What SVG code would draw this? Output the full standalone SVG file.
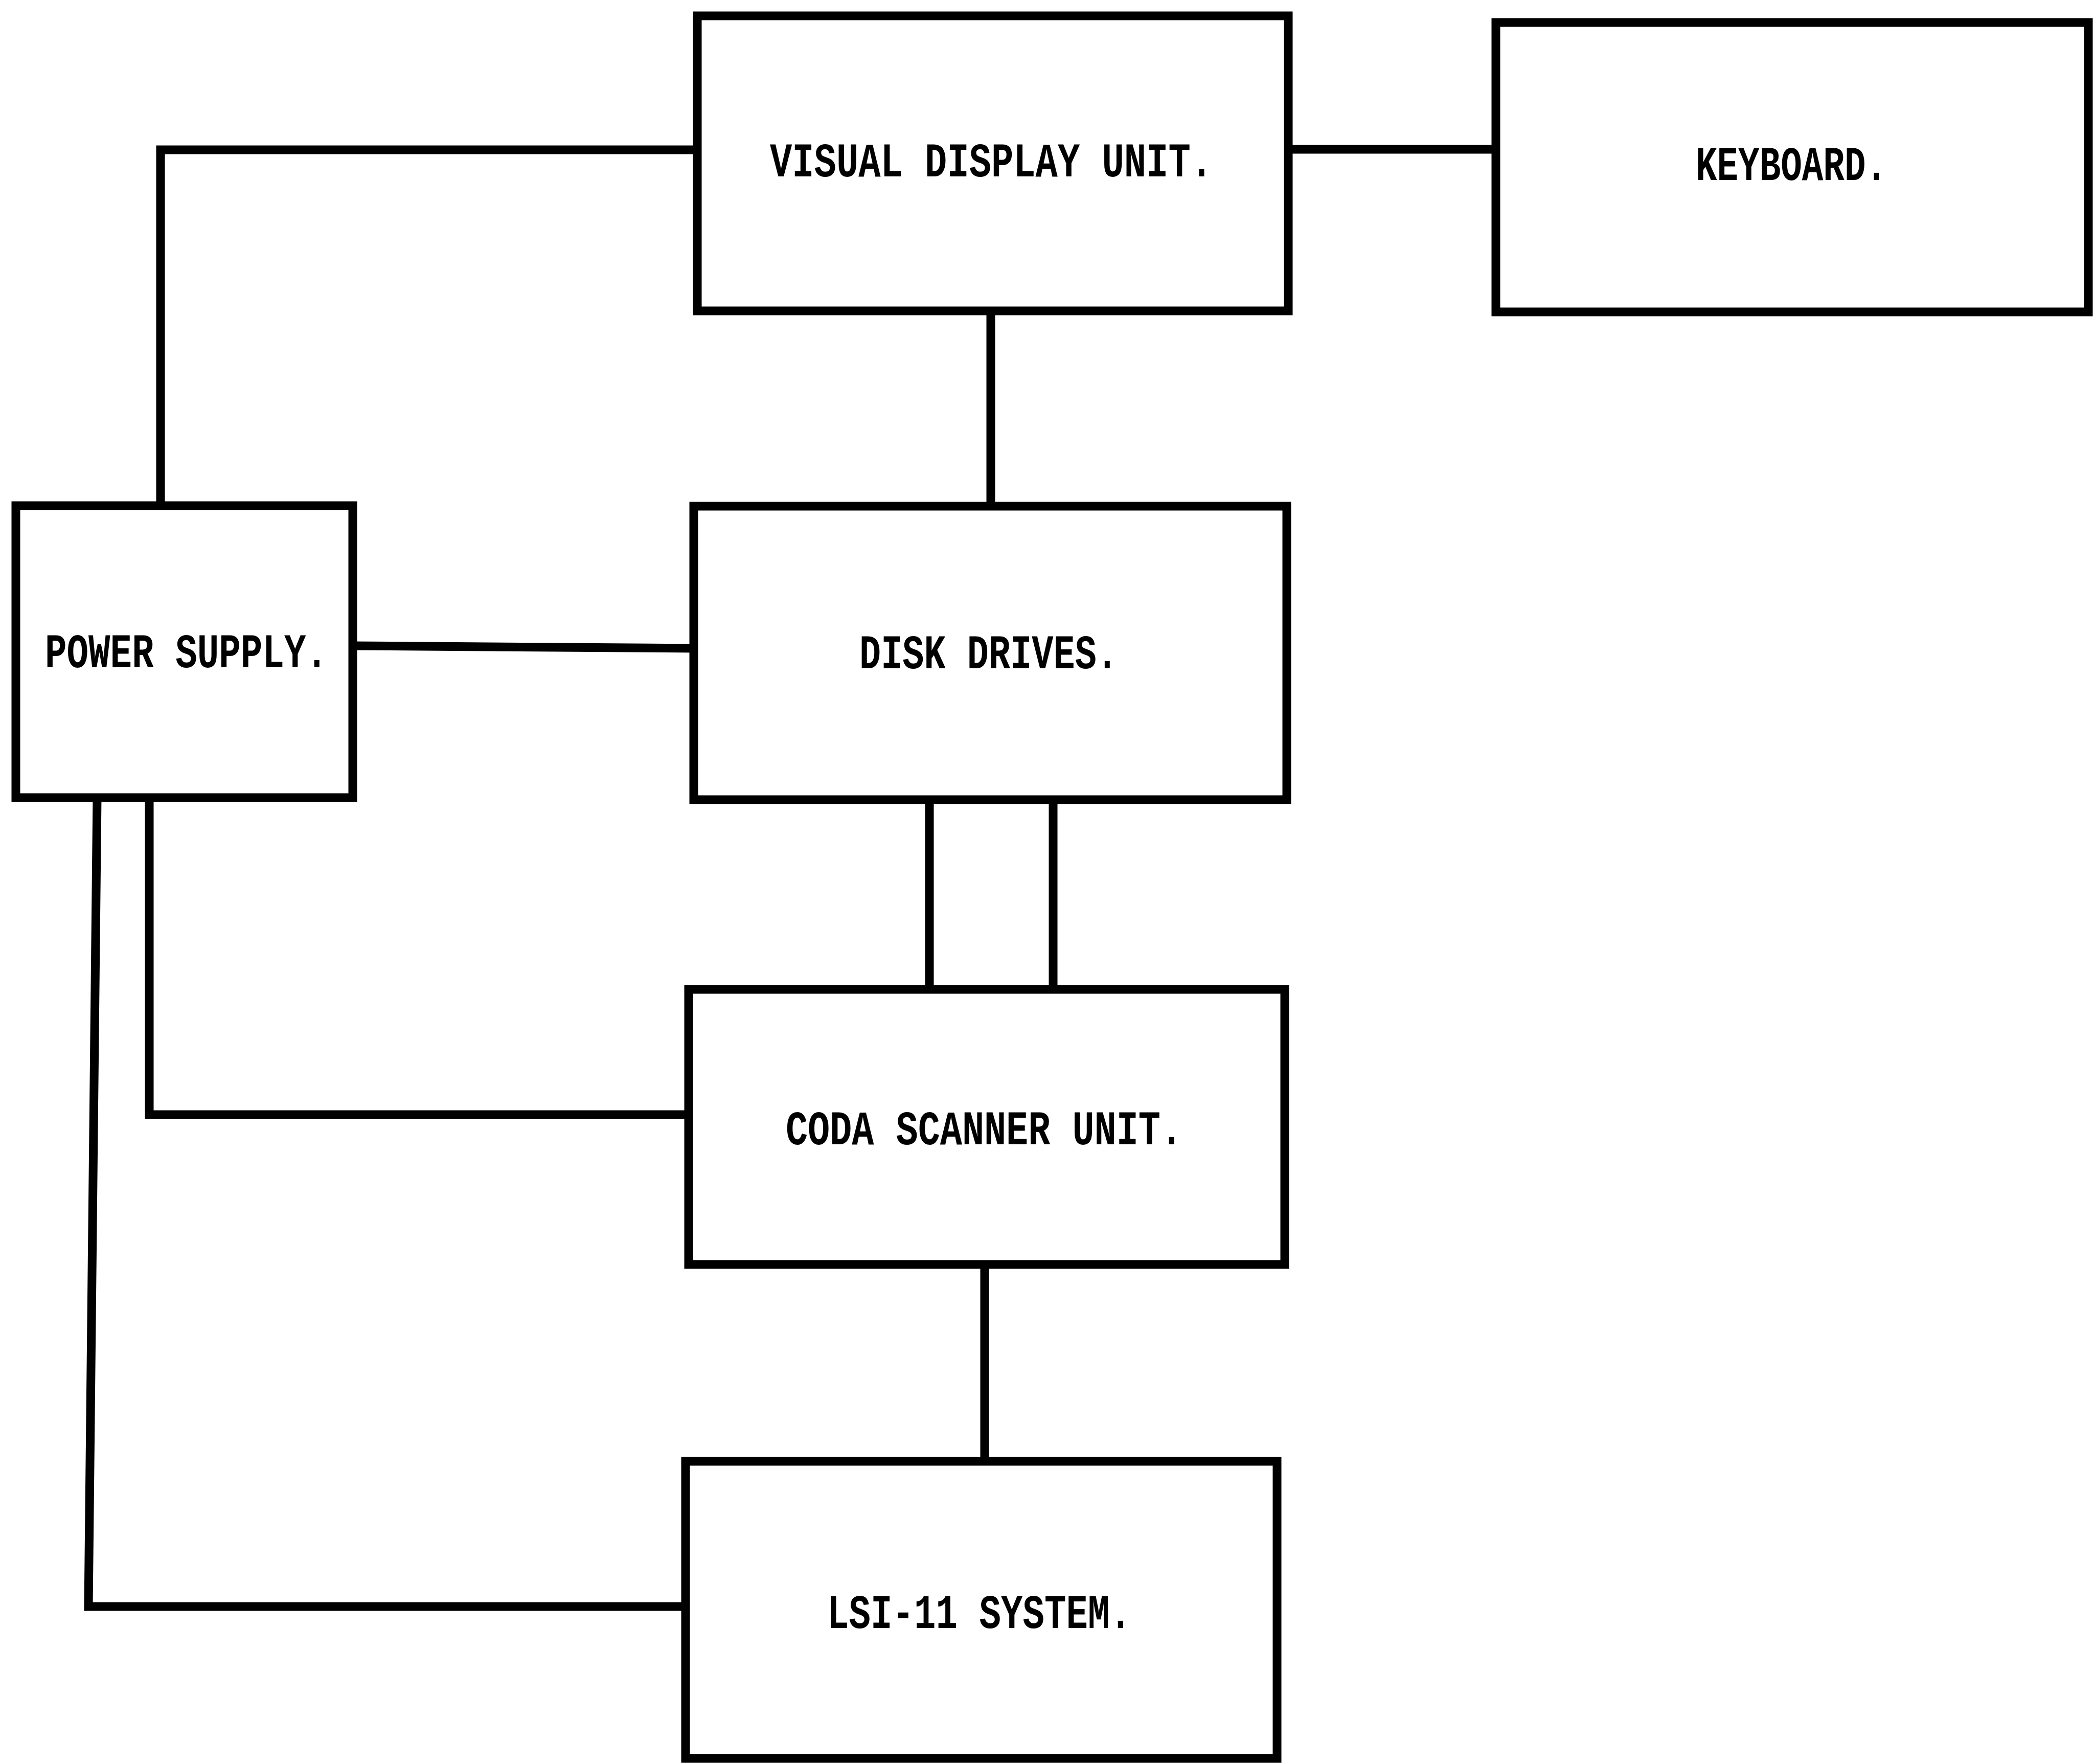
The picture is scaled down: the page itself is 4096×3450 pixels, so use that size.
<svg xmlns="http://www.w3.org/2000/svg" width="4096" height="3450" viewBox="0 0 4096 3450">
<style>
.box{fill:#fff;stroke:#000;stroke-width:17;stroke-linejoin:miter}
.wire{fill:none;stroke:#000;stroke-width:17;stroke-linecap:square;stroke-linejoin:miter}
.lbl{font-family:"Liberation Mono","DejaVu Sans Mono",monospace;font-weight:bold;font-size:94px;fill:#000;text-anchor:start}
</style>
<rect width="4096" height="3450" fill="#fff"/>
<g id="connectors">
<polyline class="wire" points="314,989 314,293 1364,293"/>
<line class="wire" x1="2520" y1="292" x2="2926" y2="292"/>
<line class="wire" x1="1938" y1="608" x2="1938" y2="990"/>
<line class="wire" x1="690" y1="1263" x2="1357" y2="1268"/>
<line class="wire" x1="1818" y1="1564" x2="1818" y2="1935"/>
<line class="wire" x1="2060" y1="1564" x2="2060" y2="1935"/>
<polyline class="wire" points="292,1560 292,2180 1347,2180"/>
<polyline class="wire" points="190,1560 173,3142 1341,3142"/>
<line class="wire" x1="1926" y1="2473" x2="1926" y2="2858"/>
</g>
<g id="vdu">
<rect class="box" x="1364" y="31" width="1156" height="577"/>
<text class="lbl" x="1506" y="345" textLength="866" lengthAdjust="spacingAndGlyphs">VISUAL DISPLAY UNIT.</text>
</g>
<g id="keyboard">
<rect class="box" x="2926" y="44" width="1159" height="566"/>
<text class="lbl" x="3317" y="352" textLength="374" lengthAdjust="spacingAndGlyphs">KEYBOARD.</text>
</g>
<g id="power-supply">
<rect class="box" x="31" y="989" width="659" height="571"/>
<text class="lbl" x="88" y="1305" textLength="553" lengthAdjust="spacingAndGlyphs">POWER SUPPLY.</text>
</g>
<g id="disk-drives">
<rect class="box" x="1357" y="990" width="1160" height="574"/>
<text class="lbl" x="1681" y="1307" textLength="506" lengthAdjust="spacingAndGlyphs">DISK DRIVES.</text>
</g>
<g id="coda-scanner">
<rect class="box" x="1347" y="1935" width="1166" height="538"/>
<text class="lbl" x="1537" y="2238" textLength="776" lengthAdjust="spacingAndGlyphs">CODA SCANNER UNIT.</text>
</g>
<g id="lsi-11">
<rect class="box" x="1341" y="2858" width="1157" height="581"/>
<text class="lbl" x="1618" y="3184" textLength="595" lengthAdjust="spacingAndGlyphs">LSI-11 SYSTEM.</text>
</g>
</svg>
